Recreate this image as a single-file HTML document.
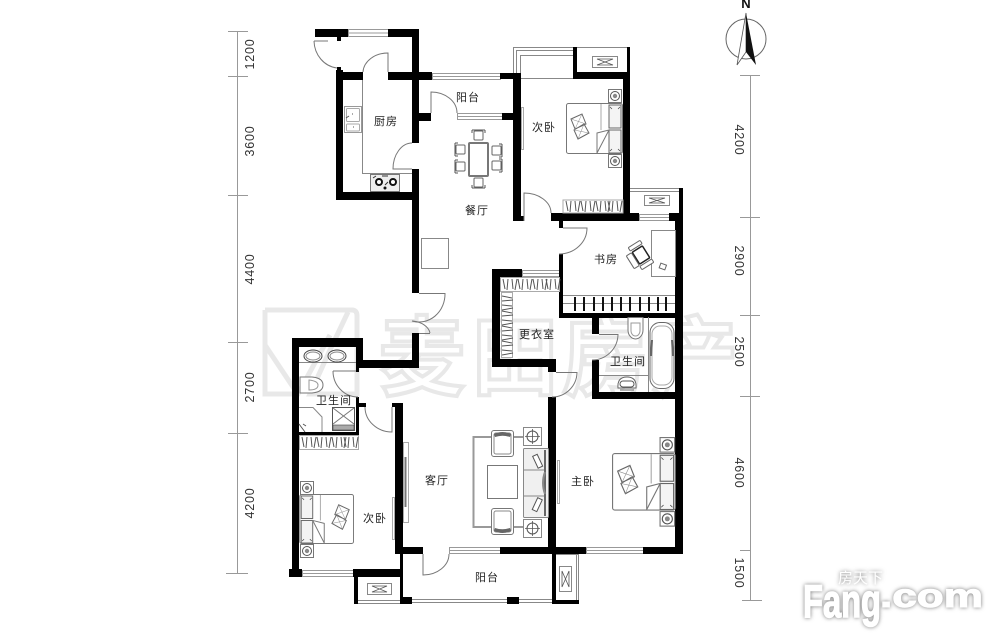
<!DOCTYPE html>
<html><head><meta charset="utf-8"><style>
html,body{margin:0;padding:0;background:#fff;width:1000px;height:637px;overflow:hidden}
svg{display:block}
text{font-family:"Liberation Sans","Noto Sans CJK SC",sans-serif}
.l{font-size:11px;fill:#222;text-anchor:middle;letter-spacing:1px}
.d{font-size:12.5px;fill:#333;text-anchor:middle;letter-spacing:.8px}
.t{fill:none;stroke:#777;stroke-width:1}
.g{fill:none;stroke:#888;stroke-width:1}
.dim{stroke:#999;stroke-width:1;fill:none}
.wm{font-size:86px;fill:#fff;stroke:#e8e8e8;stroke-width:4;text-anchor:middle;font-weight:bold}
</style></head><body>
<svg width="1000" height="637" viewBox="0 0 1000 637" xmlns="http://www.w3.org/2000/svg">
<defs>
<g id="ns"><rect x=".5" y=".5" width="13" height="13" fill="#fff" stroke="#777"/><circle cx="7" cy="7" r="4.5" fill="none" stroke="#555"/><circle cx="7" cy="7" r="2.2" fill="#888"/></g>
<g id="bed">
<rect x=".5" y=".5" width="56" height="50" rx="2" fill="#fff" stroke="#777"/>
<line x1="35" y1="1" x2="35" y2="27" stroke="#aaa"/>
<rect x="43" y="2" width="12" height="23" fill="#f4f4f4" stroke="#666"/>
<rect x="43" y="27" width="12" height="23" fill="#f4f4f4" stroke="#666"/>
<path d="M44 4l2 2M54 4l-2 2M44 48l2-2M54 48l-2-2" stroke="#444" stroke-width=".7"/>
<path d="M31 30L43 27L31 50Z" fill="#fff" stroke="#777"/>
<path d="M5 16l11-5 4 10-11 5zM8 27l10-6 5 9-11 6z" fill="#fff" stroke="#666"/>
<path d="M5 16l15 5M16 11l-7 15M8 27l15 3M18 21l-6 15" stroke="#888" stroke-width=".5"/>
</g>
<g id="chair"><rect x="0" y="0" width="9" height="9" rx="1" fill="#fff" stroke="#666"/><path d="M-2 -1H11M-2 -1v3M11 -1v3" fill="none" stroke="#555"/></g>
<g id="arm">
<rect x=".5" y=".5" width="22" height="26" rx="2.5" fill="#fff" stroke="#777"/>
<rect x="3" y="3" width="17" height="21" rx="2" fill="#fff" stroke="#888"/>
<path d="M3 4Q11.5 0 20 4L19 7Q11.5 4.5 4 7Z" fill="#666"/>
</g>
<g id="side"><rect x=".5" y=".5" width="18" height="18" fill="#fff" stroke="#888"/><circle cx="9.5" cy="9.5" r="5.5" fill="none" stroke="#555"/><path d="M9.5 2V17M2 9.5H17" stroke="#555" stroke-width=".8"/></g>
<g id="hang"><path d="M0 0l2 10M5 0l-1 11M9 0l1 10M14 0l-2 11" stroke="#555"/></g>
</defs>

<rect width="1000" height="637" fill="#fff"/>

<path d="M265 310H352Q357 310 357 316V394H310L330 350L348 312M265 310V394H298L330 335M265 345L295 390" fill="none" stroke="#e8e8e8" stroke-width="5"/>
<text class="wm" x="422" y="388">麦</text>
<text class="wm" x="515" y="388">田</text>
<text class="wm" x="605" y="388">房</text>
<text class="wm" x="695" y="388">产</text>

<path class="dim" d="M237.5 31V574M228 31.5H248M228 76.5H248M228 195.5H248M228 342.5H248M228 433.5H248M226 573.5H248"/>
<path class="dim" d="M750.5 75V600M740 75.5H760M740 217.5H760M740 315.5H760M740 396.5H760M740 550.5H750M742 600.5H762"/>
<text class="d" transform="translate(254,54) rotate(-90)">1200</text>
<text class="d" transform="translate(254,141) rotate(-90)">3600</text>
<text class="d" transform="translate(254,269) rotate(-90)">4400</text>
<text class="d" transform="translate(254,387) rotate(-90)">2700</text>
<text class="d" transform="translate(254,503) rotate(-90)">4200</text>
<text class="d" transform="translate(735,140) rotate(90)">4200</text>
<text class="d" transform="translate(735,261) rotate(90)">2900</text>
<text class="d" transform="translate(735,352) rotate(90)">2500</text>
<text class="d" transform="translate(735,473) rotate(90)">4600</text>
<text class="d" transform="translate(735,573) rotate(90)">1500</text>

<circle cx="746" cy="39" r="20" fill="none" stroke="#666"/>
<path d="M746 13L737 65L746 52Z" fill="#fff" stroke="#555" stroke-width=".8"/>
<path d="M746 13L756 65L746 52Z" fill="#111"/>
<text x="746" y="8" font-size="13" text-anchor="middle" fill="#111" font-weight="bold">N</text>

<g fill="#fff" stroke="#999">
<rect x="348.5" y="29.5" width="40" height="7"/><path d="M348 33H388"/>
<rect x="432.5" y="73.5" width="68" height="6"/><path d="M432 76.5H500"/>
<rect x="457.5" y="113.5" width="46" height="6"/><path d="M458 116.5H503"/>
<rect x="522.5" y="270.5" width="37" height="6"/><path d="M522 273.5H559"/>
<rect x="639.5" y="214.5" width="30" height="6"/><path d="M639 217.5H669"/>
<rect x="586.5" y="547.5" width="57" height="6"/><path d="M586 550.5H643"/>
<rect x="449.5" y="547.5" width="51" height="6"/><path d="M449 550.5H500"/>
<rect x="302.5" y="570.5" width="51" height="6"/><path d="M302 573.5H353"/>
</g>

<path class="g" d="M513.5 73V47.5H573M516.5 73V50.5H573M520.5 73V55.5H573M521 78.5H573M577 47.5H627M630 188.5H679M630 191.5H679M412 599.5H552M412 602.5H552M556 554.5H578.5V600M576.5 554V600M358 600.5H400M358 603.500H400"/>

<g fill="#fff" stroke="#888">
<rect x="592.5" y="56.5" width="25" height="11"/><rect x="644.5" y="195.5" width="25" height="10"/><rect x="367.5" y="583.5" width="24" height="11"/><rect x="559.5" y="566.5" width="12" height="25"/>
</g>
<path d="M597 59H613L597 65H613ZM649 198H665L649 203H665ZM372 586H387L372 592H387ZM562 571V587L569 571V587Z" fill="none" stroke="#555" stroke-width=".8"/>

<g fill="#000">
<rect x="315" y="29" width="33" height="8"/><rect x="388" y="29" width="31" height="8"/><rect x="412" y="29" width="7" height="114"/><rect x="412" y="169" width="7" height="124"/><rect x="412" y="333" width="7" height="35"/>
<rect x="337" y="37" width="4" height="4"/><rect x="337" y="67" width="4" height="6"/><rect x="336" y="70" width="7" height="130"/><rect x="336" y="192" width="83" height="8"/><rect x="336" y="72" width="27" height="8"/><rect x="388" y="72" width="44" height="8"/>
<rect x="419" y="113" width="12" height="8"/><rect x="500" y="73" width="21" height="6"/><rect x="502" y="113" width="12" height="7"/><rect x="513" y="73" width="8" height="148"/><rect x="513" y="216" width="11" height="5"/>
<rect x="573" y="47" width="4" height="32"/><rect x="573" y="72" width="57" height="7"/><rect x="627" y="47" width="3" height="26"/><rect x="623" y="72" width="7" height="149"/><rect x="551" y="213" width="88" height="8"/><rect x="669" y="213" width="14" height="8"/><rect x="679" y="188" width="4" height="30"/><rect x="675" y="213" width="8" height="341"/>
<rect x="559" y="221" width="4" height="7"/><rect x="559" y="254" width="4" height="63"/><rect x="559" y="313" width="124" height="5"/>
<rect x="492" y="269" width="30" height="8"/><rect x="492" y="269" width="8" height="98"/><rect x="492" y="359" width="64" height="8"/><rect x="548" y="359" width="8" height="13"/><rect x="548" y="397" width="8" height="157"/>
<rect x="592" y="317" width="7" height="17"/><rect x="592" y="360" width="7" height="39"/><rect x="592" y="392" width="91" height="7"/>
<rect x="643" y="547" width="40" height="7"/><rect x="500" y="547" width="86" height="7"/><rect x="403" y="547" width="20" height="7"/><rect x="395" y="403" width="8" height="151"/><rect x="392" y="403" width="3" height="4"/>
<rect x="400" y="554" width="3" height="50"/><rect x="400" y="597" width="12" height="7"/><rect x="507" y="597" width="12" height="7"/><rect x="552" y="554" width="4" height="50"/><rect x="552" y="600" width="27" height="4"/>
<rect x="289" y="569" width="13" height="8"/><rect x="292" y="338" width="7" height="239"/><rect x="292" y="338" width="71" height="9"/><rect x="356" y="338" width="7" height="30"/><rect x="356" y="360" width="63" height="8"/><rect x="356" y="368" width="3" height="4"/><rect x="356" y="397" width="3" height="38"/><rect x="356" y="403" width="10" height="4"/><rect x="299" y="432" width="60" height="3"/><rect x="353" y="569" width="47" height="8"/><rect x="354" y="577" width="4" height="27"/>
</g>

<g class="t">
<path d="M314 41H328M314 41A26 28 0 0 0 337 68"/>
<path d="M388 72V53A25 20 0 0 0 363 72"/>
<path d="M412 169H393A19 26 0 0 1 412 143"/>
<path d="M431 113V92A26 21 0 0 1 457 113"/>
<path d="M524 221V193A27 20 0 0 1 551 213"/>
<path d="M563 228H587A28 26 0 0 1 559 254"/>
<path d="M556 372.5H577A25 25 0 0 1 552 397"/>
<path d="M599 334.5H618A26 26 0 0 1 592 360"/>
<path d="M333 371H356M333 371A25 26 0 0 0 358 397"/>
<path d="M392 407V432A27 25 0 0 1 365 407"/>
<path d="M423 554V575A26 21 0 0 0 449 554"/>
<path d="M419 293.5H445A26 28 0 0 1 412 321"/>
<path d="M412 321A20 14 0 0 1 430 333M419 333.5H430"/>
</g>

<path class="g" d="M362.5 80V173.5H412"/>
<rect x="344.5" y="106.5" width="17" height="26" fill="#fff" stroke="#999"/>
<rect x="346.5" y="108.5" width="13" height="13" rx="1" fill="none" stroke="#aaa"/>
<rect x="346.5" y="124" width="13" height="7" rx="1" fill="none" stroke="#aaa"/>
<path d="M346 118l3-2M352 114h1M353 127h1" stroke="#555"/>
<rect x="370.5" y="174.5" width="29" height="17" fill="#eee" stroke="#777"/>
<circle cx="379" cy="182" r="3" fill="#fff" stroke="#111" stroke-width="2"/>
<circle cx="393" cy="182" r="3" fill="#fff" stroke="#111" stroke-width="2"/>
<circle cx="385" cy="188" r="1.5" fill="#111"/>
<path d="M382 176h6M373 178l3-2M385 185l3-3" stroke="#333"/>

<rect x="469" y="143" width="19" height="33" rx="1" fill="#fff" stroke="#777" stroke-width="2"/>
<use href="#chair" x="474" y="131"/>
<use href="#chair" transform="translate(483,187) rotate(180)"/>
<use href="#chair" transform="translate(456,154) rotate(-90)"/>
<use href="#chair" transform="translate(456,171) rotate(-90)"/>
<use href="#chair" transform="translate(501,146) rotate(90)"/>
<use href="#chair" transform="translate(501,161) rotate(90)"/>

<rect x="421.5" y="238.5" width="27" height="30" fill="#fff" stroke="#888"/>

<use href="#ns" transform="translate(608,89)"/>
<use href="#ns" transform="translate(608,154)"/>
<use href="#bed" transform="translate(566,103)"/>
<use href="#ns" transform="translate(659.5,437) scale(1.12)"/>
<use href="#ns" transform="translate(659.5,511) scale(1.12)"/>
<use href="#bed" transform="translate(612,453) scale(1.12,1.13)"/>
<use href="#ns" transform="translate(300,481)"/>
<use href="#ns" transform="translate(300,544)"/>
<use href="#bed" transform="translate(354,494) scale(-.96,.98)"/>

<g fill="#fff" stroke="#aaa">
<rect x="521.5" y="107.5" width="2" height="42"/>
<rect x="557.5" y="460.5" width="2" height="43"/>
<rect x="392.5" y="497.5" width="2" height="42"/>
<rect x="403.5" y="442.5" width="5" height="80"/>
</g>
<path d="M405.5 457V507" stroke="#777" stroke-width="2"/>

<rect x="563" y="200" width="60" height="13" fill="#fff" stroke="#aaa"/>
<use href="#hang" x="566" y="201"/><use href="#hang" x="581" y="201"/><use href="#hang" x="596" y="201"/><use href="#hang" x="608" y="201"/>
<rect x="500.5" y="277.5" width="59" height="14" fill="#fff" stroke="#aaa"/>
<use href="#hang" x="503" y="279"/><use href="#hang" x="518" y="279"/><use href="#hang" x="533" y="279"/><use href="#hang" x="546" y="279"/>
<rect x="501.5" y="292.5" width="11" height="65" fill="#fff" stroke="#aaa"/>
<g transform="translate(502,296) rotate(-90) scale(-1,1)"><use href="#hang" x="0" y="0"/><use href="#hang" x="15" y="0"/><use href="#hang" x="30" y="0"/><use href="#hang" x="45" y="0"/></g>
<rect x="299.5" y="435.5" width="59" height="14" fill="#fff" stroke="#aaa"/>
<use href="#hang" x="302" y="437"/><use href="#hang" x="317" y="437"/><use href="#hang" x="332" y="437"/><use href="#hang" x="344" y="437"/>

<path d="M563 295.5H675M563 303.5H675" stroke="#888" fill="none"/>
<g fill="#111">
<rect x="574" y="297" width="2" height="14"/><rect x="583" y="297" width="2" height="14"/><rect x="593" y="297" width="2" height="14"/><rect x="602" y="297" width="2" height="14"/><rect x="611" y="297" width="2" height="14"/><rect x="620" y="297" width="2" height="14"/><rect x="629" y="297" width="2" height="14"/><rect x="639" y="297" width="2" height="14"/><rect x="648" y="297" width="2" height="14"/><rect x="657" y="297" width="2" height="14"/><rect x="665" y="297" width="2" height="14"/>
</g>

<rect x="651.5" y="230.5" width="24" height="46" fill="#fff" stroke="#888"/>
<g transform="translate(641,255) rotate(-32)">
<rect x="-6" y="-7" width="12" height="14" rx="1" fill="#fff" stroke="#222" stroke-width="1.5"/>
<rect x="-13" y="-7" width="6" height="15" rx="1" fill="#fff" stroke="#666"/>
<rect x="-7" y="-13" width="14" height="4" rx="1" fill="#fff" stroke="#666"/>
<rect x="-7" y="9" width="14" height="4" rx="1" fill="#fff" stroke="#666"/>
</g>
<rect x="660" y="264" width="6" height="5" transform="rotate(20 663 266)" fill="#fff" stroke="#666"/>

<path class="g" d="M648.5 317V392M599 375.5H648"/>
<path d="M628 317.5H643V330A7.5 9 0 0 1 628 330Z" fill="#fff" stroke="#777"/>
<path d="M631 323H640V331A4.5 5 0 0 1 631 331Z" fill="none" stroke="#999"/>
<rect x="650" y="322.5" width="24" height="66" rx="10" fill="#fff" stroke="#666"/>
<rect x="652" y="326" width="20" height="59" rx="8" fill="none" stroke="#aaa"/>
<path d="M652 340L651 356M672 340L673 356" stroke="#666" stroke-width="2"/>
<path d="M618 388Q617 377 627 377Q637 377 636 388ZM620 390H634" fill="#fff" stroke="#666"/>
<rect x="620" y="381" width="14" height="6" rx="3" fill="none" stroke="#555"/>

<path class="g" d="M299 362.5H356"/>
<ellipse cx="313" cy="356" rx="9" ry="6" fill="#fff" stroke="#444"/><ellipse cx="313" cy="356" rx="7" ry="4" fill="none" stroke="#888"/>
<ellipse cx="337" cy="356" rx="9" ry="6" fill="#fff" stroke="#444"/><ellipse cx="337" cy="356" rx="7" ry="4" fill="none" stroke="#888"/>
<path d="M300 377H312Q323 378 323 385Q323 392 312 393H300Z" fill="#fff" stroke="#777"/>
<path d="M309 380Q318 381 318 385Q318 390 309 390Z" fill="none" stroke="#999"/>
<path class="g" d="M299 407.5H313L322 417V432"/>
<path d="M299 424l6 8M303 424l3 2" stroke="#555"/>
<rect x="332.5" y="407.5" width="22" height="23" fill="#fff" stroke="#555"/>
<path d="M333 408L354 424M354 408L333 424" stroke="#777"/>
<rect x="333" y="425" width="21" height="5" fill="#aaa" stroke="#444" stroke-width=".6"/>

<path d="M491 437H473.5V527H492M513 437H523M513 527H523" fill="none" stroke="#999" stroke-width="2"/>
<rect x="487.5" y="465.5" width="30" height="33" fill="#fff" stroke="#777"/>
<use href="#arm" x="491" y="430"/>
<use href="#arm" transform="translate(514,535) rotate(180)"/>
<use href="#side" x="523" y="427"/>
<use href="#side" x="523" y="519"/>
<rect x="523.5" y="448.5" width="25" height="69" rx="1" fill="#f0f0f0" stroke="#888"/>
<path d="M524 470H546M524 496H546" stroke="#888"/>
<path d="M545 450V516" stroke="#666" stroke-width="2"/>
<path d="M545 472Q541 483 545 494" fill="none" stroke="#888" stroke-width="2"/>
<rect x="535" y="455" width="5" height="13" transform="rotate(-25 537 461)" fill="#fff" stroke="#555"/>
<rect x="535" y="498" width="5" height="13" transform="rotate(25 537 504)" fill="#fff" stroke="#555"/>

<text class="l" x="386" y="125">厨房</text>
<text class="l" x="468" y="101">阳台</text>
<text class="l" x="544" y="131">次卧</text>
<text class="l" x="477" y="214">餐厅</text>
<text class="l" x="606" y="263">书房</text>
<text class="l" x="537" y="338">更衣室</text>
<text class="l" x="628" y="365">卫生间</text>
<text class="l" x="334" y="404">卫生间</text>
<text class="l" x="437" y="484">客厅</text>
<text class="l" x="375" y="522">次卧</text>
<text class="l" x="583" y="485">主卧</text>
<text class="l" x="487" y="581">阳台</text>

<g style="filter:drop-shadow(0 0 2px #777)">
<text x="803" y="617" font-size="46" font-weight="bold" fill="#fff" stroke="#fff" stroke-width="1.5" textLength="78" lengthAdjust="spacingAndGlyphs">Fang</text>
<text x="880" y="607" font-size="33" font-weight="bold" fill="#fff" stroke="#fff" stroke-width="1" textLength="103" lengthAdjust="spacingAndGlyphs">.com</text>
<text x="838" y="583" font-size="15" fill="#fff">房天下</text>
</g>
</svg>
</body></html>
